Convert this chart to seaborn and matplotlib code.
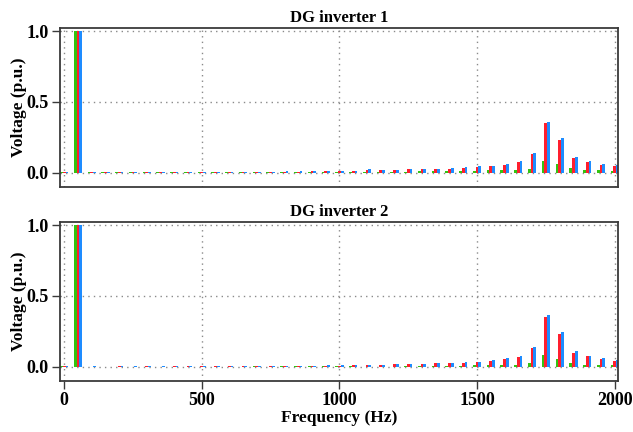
import numpy as np
import pandas as pd
import matplotlib
matplotlib.use("Agg")
import matplotlib.pyplot as plt
import seaborn as sns

# ---------------- data ----------------
freqs = [0, 50, 100, 150, 200, 250, 300, 350, 400, 450, 500, 550, 600, 650, 700,
         750, 800, 850, 900, 950, 1000, 1050, 1100, 1150, 1200, 1250, 1300, 1350,
         1400, 1450, 1500, 1550, 1600, 1650, 1700, 1750, 1800, 1850, 1900, 1950, 2000]
series_names = ["Phase A", "Phase B", "Phase C"]
titles = ["DG inverter 1", "DG inverter 2"]

dg1_a = [0.004, 1.0, 0.002, 0.002, 0.002, 0.002, 0.002, 0.002, 0.002, 0.002, 0.002,
         0.002, 0.002, 0.003, 0.003, 0.003, 0.003, 0.004, 0.004, 0.004, 0.005, 0.005,
         0.007, 0.006, 0.007, 0.007, 0.008, 0.009, 0.010, 0.014, 0.014, 0.018, 0.020,
         0.019, 0.025, 0.081, 0.058, 0.031, 0.018, 0.018, 0.014]
dg1_b = [0.004, 1.0, 0.002, 0.002, 0.003, 0.002, 0.003, 0.002, 0.003, 0.003, 0.003,
         0.003, 0.003, 0.003, 0.005, 0.004, 0.006, 0.007, 0.008, 0.012, 0.010, 0.012,
         0.019, 0.019, 0.018, 0.023, 0.025, 0.026, 0.028, 0.033, 0.038, 0.045, 0.057,
         0.073, 0.132, 0.350, 0.230, 0.101, 0.073, 0.055, 0.046]
dg1_c = [0.005, 1.0, 0.003, 0.002, 0.003, 0.003, 0.003, 0.003, 0.003, 0.003, 0.003,
         0.003, 0.004, 0.004, 0.007, 0.005, 0.008, 0.009, 0.010, 0.013, 0.012, 0.013,
         0.023, 0.021, 0.019, 0.024, 0.026, 0.028, 0.030, 0.037, 0.044, 0.050, 0.062,
         0.081, 0.142, 0.360, 0.248, 0.113, 0.080, 0.059, 0.051]

dg2_a = [0.004, 1.0, 0.002, 0.002, 0.002, 0.002, 0.002, 0.002, 0.002, 0.002, 0.002,
         0.002, 0.002, 0.002, 0.003, 0.002, 0.003, 0.003, 0.003, 0.003, 0.004, 0.003,
         0.002, 0.002, 0.002, 0.003, 0.003, 0.004, 0.005, 0.008, 0.010, 0.012, 0.016,
         0.016, 0.026, 0.080, 0.056, 0.026, 0.016, 0.014, 0.014]
dg2_b = [0.004, 1.0, 0.002, 0.002, 0.003, 0.002, 0.003, 0.002, 0.003, 0.003, 0.003,
         0.003, 0.003, 0.003, 0.004, 0.004, 0.005, 0.006, 0.007, 0.009, 0.009, 0.011,
         0.014, 0.014, 0.019, 0.019, 0.021, 0.026, 0.026, 0.030, 0.033, 0.040, 0.054,
         0.070, 0.131, 0.352, 0.230, 0.100, 0.073, 0.054, 0.042]
dg2_c = [0.005, 1.0, 0.003, 0.002, 0.003, 0.003, 0.003, 0.003, 0.003, 0.003, 0.003,
         0.003, 0.003, 0.004, 0.005, 0.005, 0.006, 0.007, 0.008, 0.010, 0.010, 0.012,
         0.014, 0.015, 0.019, 0.020, 0.021, 0.028, 0.026, 0.033, 0.035, 0.047, 0.061,
         0.077, 0.140, 0.364, 0.246, 0.110, 0.075, 0.059, 0.047]

xticks = [0, 500, 1000, 1500, 2000]
yticks = [0.0, 0.5, 1.0]
colors = ["#33c411", "#ff1f2e", "#1e8cff"]

# ---------------- style ----------------
sns.set_theme(style="white")
plt.rcParams["font.family"] = ["Liberation Serif", "DejaVu Serif"]
plt.rcParams["font.weight"] = "bold"
plt.rcParams["text.color"] = "black"
plt.rcParams["axes.labelcolor"] = "black"
plt.rcParams["xtick.color"] = "black"
plt.rcParams["ytick.color"] = "black"

fig = plt.figure(figsize=(6.33, 4.32), dpi=100)
ax1 = fig.add_axes([0.0948, 0.5678, 0.8815, 0.3681])
ax2 = fig.add_axes([0.0948, 0.1181, 0.8815, 0.3690])

panels = [(ax1, [dg1_a, dg1_b, dg1_c]), (ax2, [dg2_a, dg2_b, dg2_c])]

for i, (ax, vals) in enumerate(panels):
    df = pd.DataFrame({
        "freq": np.concatenate([freqs] * 3),
        "value": np.concatenate(vals),
        "series": np.repeat(series_names, len(freqs)),
    })
    sns.barplot(data=df, x="freq", y="value", hue="series", native_scale=True,
                width=0.6, palette=colors, saturation=1, linewidth=0,
                legend=False, ax=ax, errorbar=None)
    ax.set_axisbelow(True)
    ax.set_xlim(-15, 2012)
    ax.set_ylim(-0.1, 1.025)
    ax.set_xticks(xticks)
    ax.set_yticks(yticks)
    ax.set_yticklabels([f"{t:.1f}" for t in yticks], fontsize=13, fontweight="bold")
    ax.grid(True, linestyle=(0, (1, 3)), color="#8a8a8a", linewidth=1.0)
    for s in ax.spines.values():
        s.set_visible(True)
        s.set_color("#3a3a3a")
        s.set_linewidth(1.3)
    ax.tick_params(axis="y", direction="out", length=6, width=1.0, pad=2,
                   left=True, color="#3a3a3a", labelcolor="black")
    ax.set_ylabel("Voltage (p.u.)", fontsize=12.5, fontweight="bold", labelpad=0)
    ax.set_title(titles[i], fontsize=12, fontweight="bold", pad=4)
    if i == 0:
        ax.tick_params(axis="x", bottom=False, labelbottom=False)
        ax.set_xlabel("")
    else:
        ax.tick_params(axis="x", direction="out", length=6, width=1.0, pad=2,
                       bottom=True, color="#3a3a3a", labelcolor="black")
        ax.set_xticklabels([str(t) for t in xticks], fontsize=13, fontweight="bold")
        ax.set_xlabel("Frequency (Hz)", fontsize=12.5, fontweight="bold", labelpad=1)

fig.savefig("out.png", dpi=100)
